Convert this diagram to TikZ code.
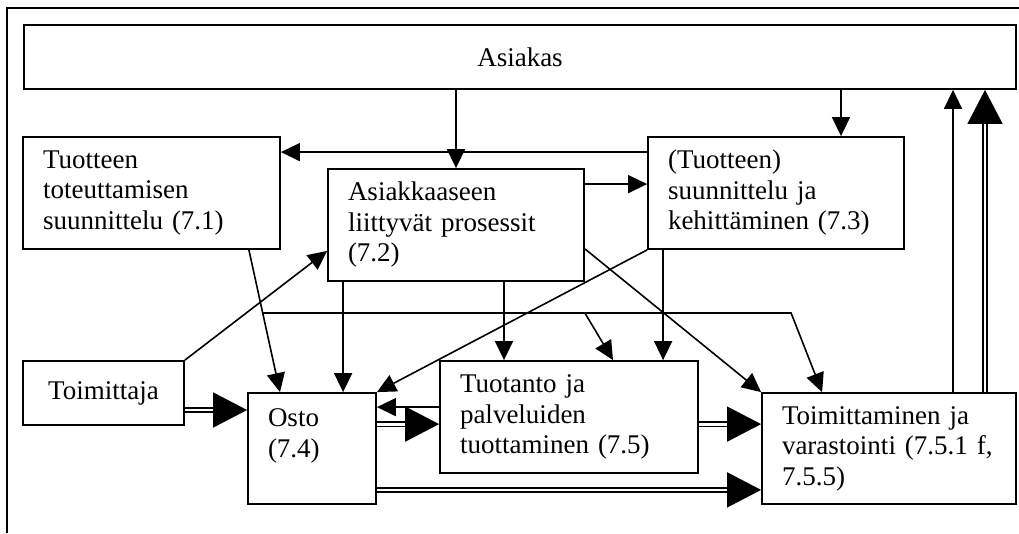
\documentclass[tikz,border=0pt]{standalone}
\usepackage{fontspec}
\setmainfont{Liberation Serif}
\usetikzlibrary{arrows.meta}

\begin{document}
\begin{tikzpicture}[x=1pt,y=-1pt]
\tikzstyle{every node}+=[inner sep=0pt]
\tikzstyle{box}=[draw,line width=1.8pt,align=left,font=\fontsize{27}{30.5}\selectfont]
\tikzstyle{arr}=[line width=1.6pt,-{Triangle[length=19pt,width=18pt]}]
\tikzstyle{dbl}=[line width=1.5pt,double,double distance=2.8pt,-{Triangle[length=34pt,width=35pt]}]
\useasboundingbox (0,0) rectangle (1019,533);
\draw [line width=1.8pt] (7,533) -- (7,8) -- (1019,8);
\node [box,align=center,minimum width=992,minimum height=64] (asiakas) at (520,57) {Asiakas};
\node [box,minimum width=257,minimum height=112,text width=217pt] (plan) at (151.5,193) {Tuotteen\\toteuttamisen\\suunnittelu (7.1)};
\node [box,minimum width=256,minimum height=112,text width=216pt] (customer) at (456,225) {Asiakkaaseen\\liittyvät prosessit\\(7.2)};
\node [box,minimum width=256,minimum height=112,text width=216pt] (design) at (776,193) {(Tuotteen)\\suunnittelu ja\\kehittäminen (7.3)};
\node [box,align=center,minimum width=161,minimum height=64] (supplier) at (103.5,393) {Toimittaja};
\node [box,minimum width=128,minimum height=111,text width=88pt] (purchase) at (312,448.5) {Osto\\(7.4)\\\mbox{}};
\node [box,minimum width=258,minimum height=112,text width=218pt] (production) at (569,417) {Tuotanto ja\\palveluiden\\tuottaminen (7.5)};
\node [box,minimum width=254,minimum height=111,text width=214pt] (delivery) at (889,448.5) {Toimittaminen ja\\varastointi (7.5.1 f,\\7.5.5)};
\draw [arr] (asiakas.south -| customer.north) -- (customer.north);
\draw [arr] ([xshift=65pt]design.north |- asiakas.south) -- ([xshift=65pt]design.north);
\draw [arr] ([yshift=-16pt]design.north west) -- ([yshift=-16pt]plan.north east);
\draw [arr] ([yshift=-16pt]customer.north east) -- ([yshift=-16pt]customer.north east -| design.west);
\draw [arr] (supplier.north east) -- ([yshift=31pt]customer.south west);
\draw [arr] ([xshift=-32pt]plan.south east) -- coordinate[pos=0.444] (branch) ([xshift=-32pt]purchase.north);
\draw [arr] (branch) -- ([xshift=30pt]delivery.north west |- branch) -- ([xshift=61pt]delivery.north west);
\draw [arr] (customer.south east |- branch) -- ([xshift=44pt]production.north);
\draw [arr] ([xshift=16pt]customer.south west) -- ([xshift=16pt]customer.south west |- purchase.north);
\draw [arr] ([xshift=48pt]customer.south) -- ([xshift=48pt]customer.south |- production.north);
\draw [arr] ([yshift=33pt]customer.south east) -- (delivery.north west);
\draw [arr] (design.south west) -- (purchase.north east);
\draw [arr] ([xshift=16pt]design.south west) -- ([xshift=16pt]design.south west |- production.north);
\draw [arr] ([yshift=-47pt]production.north west) -- ([yshift=-47pt]production.north west -| purchase.east);
\draw [dbl] ([yshift=-17pt]supplier.east) -- ([yshift=-17pt]supplier.east -| purchase.west);
\draw [dbl] ([yshift=-32pt]purchase.north east) -- ([yshift=-32pt]purchase.north east -| production.west);
\draw [dbl] ([yshift=-32pt]production.east |- delivery.north west) -- ([yshift=-32pt]delivery.north west);
\draw [dbl] ([yshift=15pt]purchase.south east) -- ([yshift=15pt]purchase.south east -| delivery.west);
\draw [arr] ([xshift=64pt]delivery.north) -- ([xshift=64pt]delivery.north |- asiakas.south);
\draw [dbl] ([xshift=96pt]delivery.north) -- ([xshift=96pt]delivery.north |- asiakas.south);
\end{tikzpicture}
\end{document}
